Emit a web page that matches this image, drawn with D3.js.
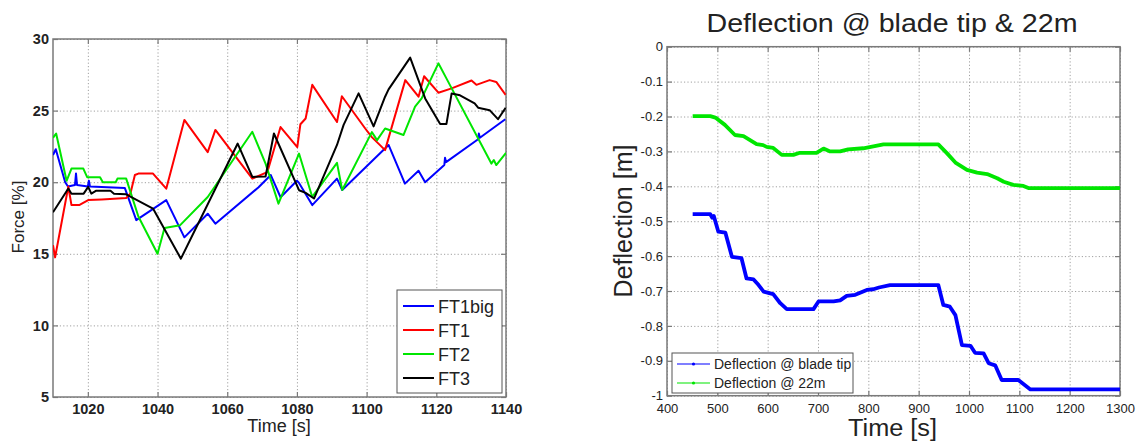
<!DOCTYPE html>
<html>
<head>
<meta charset="utf-8">
<script src="https://cdn.jsdelivr.net/npm/d3@7"></script>
<style>
  body { margin: 0; background: #fff; }
  svg { display: block; }
  text { font-family: Arial, "Liberation Sans", Helvetica, sans-serif; fill: #222; }
</style>
</head>
<body>
<svg id="fig" width="1141" height="444"></svg>
<script>
// ---------- Force sensors (left panel) ----------
const forceXTicks = [1020, 1040, 1060, 1080, 1100, 1120, 1140];
const forceYTicks = [5, 10, 15, 20, 25, 30];
const forceSeriesNames = ["FT1big", "FT1", "FT2", "FT3"];
const forceColors = ["#0000ff", "#ff0000", "#00e600", "#000000"];

const ft1bigTime = [1010, 1010.8, 1013.5, 1014.3, 1016.3, 1016.6, 1016.9, 1020, 1020.3, 1020.6, 1030.6, 1033.9, 1042.5, 1047.7, 1054.4, 1056.6, 1069, 1072.5, 1075.3, 1080, 1080.6, 1084.4, 1091.5, 1093, 1106.3, 1111, 1114.9, 1116.8, 1122.3, 1122.5, 1122.8, 1132, 1132.2, 1132.5, 1139.8];
const ft1bigForce = [21.9, 22.3, 20.0, 19.7, 19.8, 20.6, 19.8, 19.7, 20.1, 19.7, 19.6, 17.35, 18.75, 16.15, 17.8, 17.1, 19.65, 20.5, 18.95, 20.1, 19.95, 18.4, 20.25, 19.45, 22.6, 19.9, 20.8, 20.0, 21.2, 21.7, 21.4, 23.0, 23.4, 23.1, 24.4];

const ft1Time = [1010, 1010.6, 1014.4, 1015.3, 1017.5, 1020.1, 1024, 1031, 1032.2, 1033.5, 1034.5, 1038.7, 1042.5, 1047.7, 1054.4, 1056.6, 1067.2, 1071.5, 1075.3, 1080.1, 1081, 1082.5, 1084.4, 1091.5, 1092.9, 1099.6, 1101.5, 1105.3, 1111.1, 1114.9, 1116.5, 1120.6, 1124.4, 1130.1, 1131.5, 1135.3, 1137.2, 1139.9];
const ft1Force = [15.6, 14.75, 19.7, 18.4, 18.4, 18.75, 18.8, 18.9, 19.2, 20.5, 20.6, 20.6, 19.55, 24.35, 22.1, 23.65, 20.25, 20.7, 23.85, 22.45, 24.05, 24.45, 26.8, 24.2, 26.0, 23.75, 23.15, 22.24, 27.13, 25.97, 27.4, 26.25, 26.55, 27.1, 26.8, 27.13, 27.0, 26.1];

const ft2Time = [1010, 1010.9, 1013.9, 1015.3, 1018.7, 1019.8, 1023.5, 1024.3, 1028, 1028.5, 1031, 1034.5, 1040, 1042, 1046.5, 1054.4, 1067.2, 1071, 1074.7, 1080.6, 1084.4, 1091.5, 1093, 1101.5, 1103, 1105.3, 1110.6, 1113.9, 1115.8, 1120.6, 1122.9, 1135.8, 1136.5, 1137.2, 1140];
const ft2Force = [23.1, 23.4, 20.1, 20.95, 20.95, 20.35, 20.35, 20.0, 20.0, 20.25, 20.25, 17.6, 15.0, 16.8, 17.0, 18.97, 23.52, 21.3, 18.5, 22.0, 18.97, 21.35, 19.45, 23.5, 22.94, 23.75, 23.3, 25.27, 25.85, 28.3, 27.25, 21.3, 21.55, 21.2, 22.05];

const ft3Time = [1010, 1014.4, 1015.3, 1018.8, 1020.1, 1021, 1022.3, 1026.5, 1027.5, 1031, 1038.7, 1046.7, 1063, 1067.2, 1071, 1073.4, 1080.6, 1082.5, 1084.9, 1091.5, 1093.4, 1097.7, 1102, 1105.3, 1106.3, 1112.5, 1116.8, 1121.1, 1122.9, 1124.4, 1126.8, 1131, 1132, 1135.3, 1137.7, 1139.9];
const ft3Force = [17.9, 19.56, 19.2, 19.2, 19.67, 19.2, 19.4, 19.4, 19.2, 19.15, 18.16, 14.66, 22.7, 20.37, 20.4, 23.4, 19.44, 19.25, 18.86, 22.6, 24.0, 26.2, 23.9, 25.97, 26.48, 28.7, 25.85, 24.06, 24.06, 26.2, 26.07, 25.5, 25.2, 25.03, 24.4, 25.2];

// ---------- Blade deflection (right panel) ----------
const deflTitle = "Deflection @ blade tip & 22m";
const deflXTicks = [400, 500, 600, 700, 800, 900, 1000, 1100, 1200, 1300];
const deflYTicks = [0, -0.1, -0.2, -0.3, -0.4, -0.5, -0.6, -0.7, -0.8, -0.9, -1];
const deflSeriesNames = ["Deflection @ blade tip", "Deflection @ 22m"];
const deflColors = ["#0000ff", "#00e600"];

const tipTime = [451, 486, 490, 493, 497, 502, 516, 529, 548, 558, 572, 582, 592, 611, 625, 638, 691, 701, 731, 744, 757, 774, 797, 810, 821, 843, 939, 949, 962, 973, 986, 1003, 1012, 1029, 1039, 1052, 1065, 1098, 1122, 1300];
const tipDefl = [-0.480, -0.480, -0.49, -0.485, -0.505, -0.53, -0.533, -0.602, -0.606, -0.664, -0.667, -0.683, -0.702, -0.709, -0.735, -0.752, -0.752, -0.73, -0.73, -0.727, -0.714, -0.711, -0.697, -0.695, -0.690, -0.683, -0.683, -0.740, -0.745, -0.769, -0.855, -0.857, -0.877, -0.879, -0.907, -0.913, -0.955, -0.955, -0.982, -0.982];

const midTime = [451, 486, 496, 515, 535, 552, 578, 591, 598, 611, 628, 651, 664, 697, 711, 724, 744, 760, 790, 805, 830, 939, 956, 973, 996, 1016, 1036, 1056, 1069, 1088, 1108, 1118, 1300];
const midDefl = [-0.199, -0.199, -0.203, -0.224, -0.253, -0.256, -0.279, -0.282, -0.287, -0.29, -0.31, -0.31, -0.304, -0.304, -0.292, -0.300, -0.300, -0.294, -0.291, -0.287, -0.280, -0.280, -0.305, -0.332, -0.353, -0.361, -0.365, -0.377, -0.387, -0.396, -0.399, -0.405, -0.405];

const svg = d3.select("#fig");

// Draws a boxed axes frame with dotted grid and inward ticks on all four sides.
function drawFrame(g, x, y, xTicks, yTicks, fmtY, fontSize, fontWeight, xPad) {
  const [x0, x1] = x.range();
  const [y0, y1] = y.range(); // y0 = bottom, y1 = top
  const w = x1 - x0, h = y0 - y1;

  // grid
  g.append("g").attr("transform", `translate(0,${y0})`)
    .call(d3.axisBottom(x).tickValues(xTicks).tickSize(-h).tickFormat(""))
    .call(s => s.select(".domain").remove())
    .call(s => s.selectAll("line").attr("stroke", "#a0a0a0").attr("stroke-dasharray", "1.2,2.2"));
  g.append("g").attr("transform", `translate(${x0},0)`)
    .call(d3.axisLeft(y).tickValues(yTicks).tickSize(-w).tickFormat(""))
    .call(s => s.select(".domain").remove())
    .call(s => s.selectAll("line").attr("stroke", "#a0a0a0").attr("stroke-dasharray", "1.2,2.2"));

  const style = s => {
    s.select(".domain").remove();
    s.selectAll("line").attr("stroke", "#7a7a7a").attr("stroke-width", 1.2);
    s.selectAll("text").attr("font-size", fontSize).attr("font-weight", fontWeight)
      .attr("fill", "#222").style("font-family", "Arial, 'Liberation Sans', sans-serif");
  };
  g.append("g").attr("transform", `translate(0,${y0})`)
    .call(d3.axisBottom(x).tickValues(xTicks).tickSize(-5).tickPadding(xPad).tickFormat(d3.format("d")))
    .call(style);
  g.append("g").attr("transform", `translate(0,${y1})`)
    .call(d3.axisTop(x).tickValues(xTicks).tickSize(-5).tickFormat(""))
    .call(style);
  g.append("g").attr("transform", `translate(${x0},0)`)
    .call(d3.axisLeft(y).tickValues(yTicks).tickSize(-5).tickPadding(4).tickFormat(fmtY))
    .call(style);
  g.append("g").attr("transform", `translate(${x1},0)`)
    .call(d3.axisRight(y).tickValues(yTicks).tickSize(-5).tickFormat(""))
    .call(style);

  g.append("rect").attr("x", x0).attr("y", y1).attr("width", w).attr("height", h)
    .attr("fill", "none").attr("stroke", "#7a7a7a").attr("stroke-width", 1.5);
}

// ---------- Left panel ----------
const gL = svg.append("g");
const xF = d3.scaleLinear().domain([1010, 1140]).range([53, 506]);
const yF = d3.scaleLinear().domain([5, 30]).range([397, 39]);

const forceSeries = [
  ft1bigTime.map((t, i) => [t, ft1bigForce[i]]),
  ft1Time.map((t, i) => [t, ft1Force[i]]),
  ft2Time.map((t, i) => [t, ft2Force[i]]),
  ft3Time.map((t, i) => [t, ft3Force[i]])
];

drawFrame(gL, xF, yF, forceXTicks, forceYTicks, d3.format("d"), 14.5, "bold", 7);

const lineF = d3.line().x(d => xF(d[0])).y(d => yF(d[1]));
gL.append("clipPath").attr("id", "clipL").append("rect")
  .attr("x", 53).attr("y", 39).attr("width", 453).attr("height", 358);
forceSeries.forEach((s, i) => {
  gL.append("path").datum(s).attr("d", lineF).attr("fill", "none")
    .attr("stroke", forceColors[i]).attr("stroke-width", 2)
    .attr("stroke-linejoin", "round").attr("clip-path", "url(#clipL)");
});

// legend
const legL = gL.append("g");
legL.append("rect").attr("x", 397).attr("y", 290).attr("width", 105).attr("height", 103)
  .attr("fill", "#fff").attr("stroke", "#555").attr("stroke-width", 1);
forceSeriesNames.forEach((name, i) => {
  const cy = 306 + i * 24;
  legL.append("line").attr("x1", 403).attr("x2", 434).attr("y1", cy).attr("y2", cy)
    .attr("stroke", forceColors[i]).attr("stroke-width", 2);
  legL.append("text").attr("x", 438).attr("y", cy + 6.5).attr("font-size", 18).text(name);
});

gL.append("text").attr("x", 279).attr("y", 432).attr("text-anchor", "middle")
  .attr("font-size", 18).text("Time [s]");
gL.append("text").attr("transform", "translate(24,217) rotate(-90)")
  .attr("text-anchor", "middle").attr("font-size", 17).text("Force [%]");

// ---------- Right panel ----------
const gR = svg.append("g");
const xD = d3.scaleLinear().domain([400, 1300]).range([667, 1120]);
const yD = d3.scaleLinear().domain([-1, 0]).range([395.7, 46.7]);

const fmtD = d => d === 0 ? "0" : String(+d.toFixed(1));
drawFrame(gR, xD, yD, deflXTicks, deflYTicks, fmtD, 13, "normal", 8);

const lineD = d3.line().x(d => xD(d[0])).y(d => yD(d[1]));
const deflSeries = [
  tipTime.map((t, i) => [t, tipDefl[i]]),
  midTime.map((t, i) => [t, midDefl[i]])
];
deflSeries.forEach((s, i) => {
  gR.append("path").datum(s).attr("d", lineD).attr("fill", "none")
    .attr("stroke", deflColors[i]).attr("stroke-width", 3.8)
    .attr("stroke-linejoin", "round");
});

// legend
const legR = gR.append("g");
legR.append("rect").attr("x", 672).attr("y", 353).attr("width", 181).attr("height", 40)
  .attr("fill", "#fff").attr("stroke", "#555").attr("stroke-width", 1);
deflSeriesNames.forEach((name, i) => {
  const cy = 364 + i * 19;
  legR.append("line").attr("x1", 677).attr("x2", 710).attr("y1", cy).attr("y2", cy)
    .attr("stroke", deflColors[i]).attr("stroke-width", 1.2);
  legR.append("circle").attr("cx", 693.5).attr("cy", cy).attr("r", 1.6).attr("fill", deflColors[i]);
  legR.append("text").attr("x", 714).attr("y", cy + 5).attr("font-size", 14).text(name);
});

gR.append("text").attr("x", 892).attr("y", 32).attr("text-anchor", "middle")
  .attr("font-size", 26.5).attr("textLength", 371).attr("lengthAdjust", "spacingAndGlyphs")
  .text(deflTitle);
gR.append("text").attr("x", 892.5).attr("y", 436).attr("text-anchor", "middle")
  .attr("font-size", 23).attr("textLength", 89).attr("lengthAdjust", "spacingAndGlyphs")
  .text("Time [s]");
gR.append("text").attr("transform", "translate(632,221) rotate(-90)")
  .attr("text-anchor", "middle").attr("font-size", 25).text("Deflection [m]");
</script>
</body>
</html>
